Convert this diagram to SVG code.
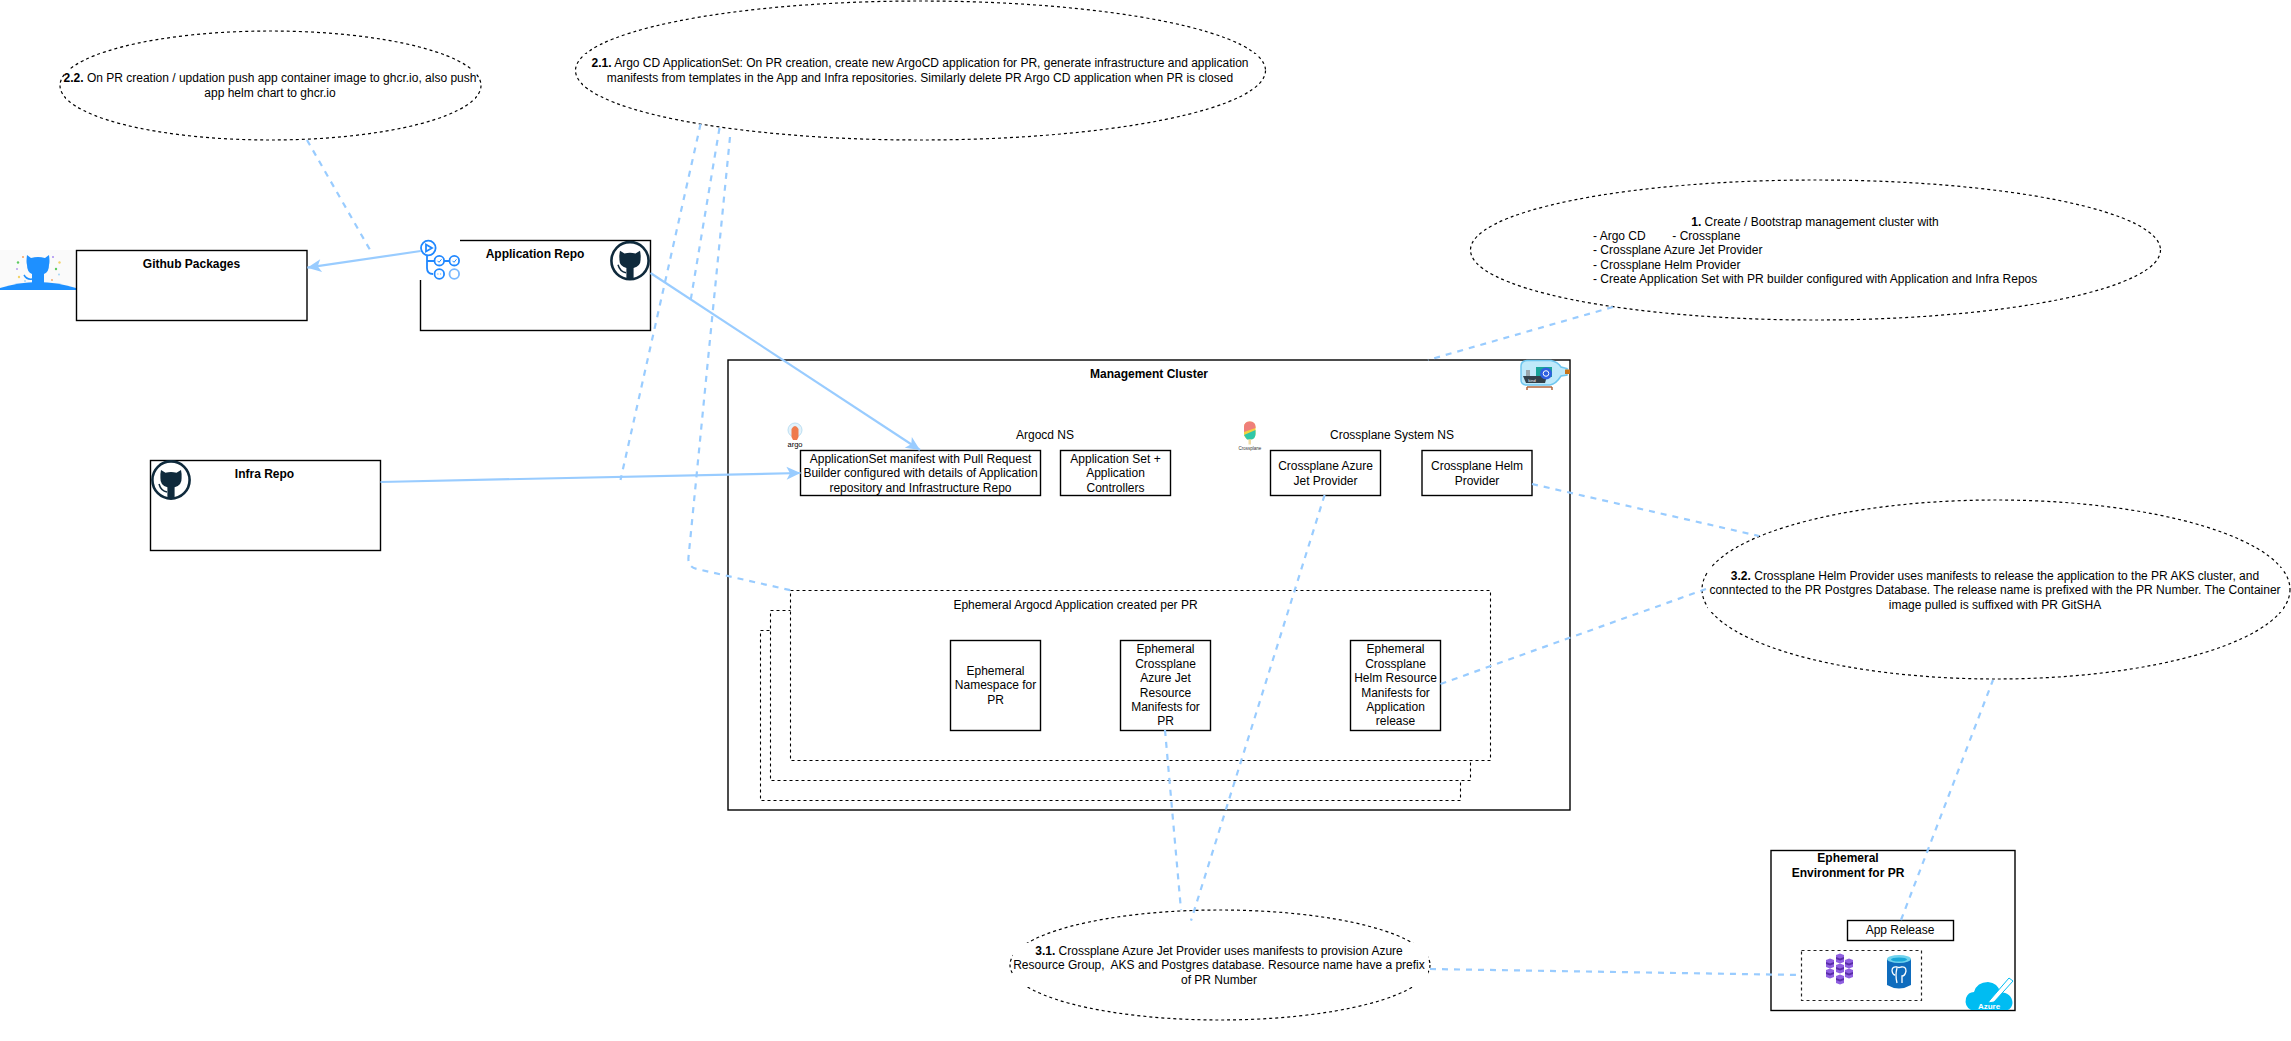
<svg xmlns="http://www.w3.org/2000/svg" xmlns:xlink="http://www.w3.org/1999/xlink" width="2291" height="1041" viewBox="0 0 2291 1041">
<style>
text{font-family:"Liberation Sans",Arial,Helvetica,sans-serif;font-size:12px;fill:#000;text-anchor:middle}
.b{font-weight:bold}
.box{fill:#fff;stroke:#000;stroke-width:1.4}
.dbox{fill:#fff;stroke:#000;stroke-width:1.1;stroke-dasharray:3 3}
.ell{fill:#fff;stroke:#000;stroke-width:1.2;stroke-dasharray:3 3}
.bg{fill:#fff;stroke:none}
.link{fill:none;stroke:#99ccff;stroke-width:2.2}
.dash{fill:none;stroke:#99ccff;stroke-width:2.2;stroke-dasharray:6 6}
.arrow{marker-end:url(#head)}
.l{text-anchor:start}
</style>
<defs>
<marker id="head" markerUnits="userSpaceOnUse" markerWidth="16" markerHeight="16" viewBox="-15 -8 16 16" refX="0" refY="0" orient="auto">
<path d="M0,0 L-14,-6.500 L-10.500,0 L-14,6.500 Z" fill="#99ccff"/>
</marker>
<g id="octo">
<circle r="18.6" fill="#fff" stroke="#0f2a3c" stroke-width="2.6"/>
<path d="M-10,-10 L-5.500,-7.300 Q0,-8.600 5.500,-7.300 L10,-10 Q11,-5.500 10.600,-2 Q11,5.500 3.600,7.200 L3.600,18.300 L-3.600,18.300 L-3.600,7.200 Q-11,5.500 -10.600,-2 Q-11,-5.500 -10,-10 Z" fill="#0f2a3c"/>
<path d="M-12,4 Q-10,11 -4,12" fill="none" stroke="#0f2a3c" stroke-width="1.5"/>
</g>
<g id="cube">
<path d="M-4,-3.500 L0,-5 L4,-3.500 L4,3.500 L0,5 L-4,3.500 Z" fill="#8f5fe0"/>
<path d="M-4,-1.500 L0,0 L4,-1.500 L4,0.500 L0,2 L-4,0.500 Z" fill="#5a2da8"/>
</g>
</defs>

<g id="ellipse-2-2">
<ellipse class="ell" cx="270.500" cy="85.500" rx="210.500" ry="54.500"/>
<rect class="bg" x="66" y="69" width="409" height="31"/>
<text x="270" y="82"><tspan class="b">2.2.</tspan> On PR creation / updation push app container image to ghcr.io, also push</text>
<text x="270" y="97">app helm chart to ghcr.io</text>
</g>

<g id="ellipse-2-1">
<ellipse class="ell" cx="920.500" cy="70.500" rx="345" ry="69.500"/>
<rect class="bg" x="583" y="54" width="675" height="31"/>
<text x="920" y="67"><tspan class="b">2.1.</tspan> Argo CD ApplicationSet: On PR creation, create new ArgoCD application for PR, generate infrastructure and application</text>
<text x="920" y="82">manifests from templates in the App and Infra repositories. Similarly delete PR Argo CD application when PR is closed</text>
</g>

<g id="ellipse-1">
<ellipse class="ell" cx="1815.500" cy="250" rx="345" ry="70"/>
<text x="1815" y="226"><tspan class="b">1.</tspan> Create / Bootstrap management cluster with</text>
<text class="l" x="1593" y="240" xml:space="preserve">- Argo CD        - Crossplane</text>
<text class="l" x="1593" y="254">- Crossplane Azure Jet Provider</text>
<text class="l" x="1593" y="269">- Crossplane Helm Provider</text>
<text class="l" x="1593" y="283">- Create Application Set with PR builder configured with Application and Infra Repos</text>
</g>

<g id="github-packages">
<rect x="0" y="250" width="76" height="40" fill="#fafafa"/>
<path d="M0,288 Q38,276 76,288 L76,290 L0,290 Z" fill="#1e90ff"/>
<path d="M27,255 L31,258 Q38,256 45,258 L49,255 Q50,262 49,265 Q49,272 44,274 L44,283 L32,283 L32,274 Q27,272 27,265 Q26,262 27,255 Z" fill="#1e90ff"/>
<path d="M24,275 Q27,280 32,279" fill="none" stroke="#1e90ff" stroke-width="1.500"/>
<g>
<circle cx="23" cy="257" r="1" fill="#f4a261"/><circle cx="18" cy="262.500" r="1.200" fill="#5ccb5f"/><circle cx="17" cy="269" r="1" fill="#b79cf0"/><circle cx="19" cy="277" r="1.200" fill="#f2d36b"/><circle cx="53" cy="257" r="1" fill="#a98cf0"/><circle cx="59.500" cy="262.500" r="1.200" fill="#f2d36b"/><circle cx="56" cy="269" r="1.200" fill="#5ccb5f"/><circle cx="59" cy="274.500" r="0.900" fill="#9fd3f7"/><circle cx="52" cy="280" r="0.900" fill="#f4a261"/><circle cx="25" cy="281" r="0.900" fill="#9fd3f7"/>
</g>
<rect class="box" x="76.500" y="250.500" width="230.500" height="70"/>
<text class="b" x="191.500" y="268">Github Packages</text>
</g>

<g id="application-repo">
<rect class="box" x="420.500" y="240.500" width="230" height="90"/>
<rect x="419" y="239" width="41" height="41" fill="#fff"/>
<text class="b" x="535" y="258">Application Repo</text>
<use href="#octo" x="630" y="260.700"/>
<g fill="#fff" stroke="#2188ff" stroke-width="1.800">
<path d="M427,256 L427,268 Q427,274 433,274 M427,261 Q428,261 434,261 M444,261 L449,261" fill="none"/>
<circle cx="428.300" cy="248" r="7.300"/>
<path d="M426,244.500 L432,248 L426,251.500 Z" fill="none"/>
<circle cx="439.300" cy="260.700" r="4.800"/><circle cx="454.300" cy="260.700" r="4.800"/>
<circle cx="439.300" cy="274" r="4.800"/>
<circle cx="454.300" cy="274" r="4.800" stroke="#79b8ff"/>
<path d="M437.500,260.800 L439,262.300 L441.500,259.300 M452.500,260.800 L454,262.300 L456.500,259.300" fill="none" stroke-width="1"/>
<path d="M437.500,274 L438.300,274 M440.300,274 L441.100,274" fill="none" stroke-width="1"/>
</g>
</g>

<g id="infra-repo">
<rect class="box" x="150.500" y="460.500" width="230" height="90"/>
<use href="#octo" x="171" y="480"/>
<text class="b" x="264.500" y="478">Infra Repo</text>
</g>

<g id="management-cluster">
<rect class="box" x="728" y="360" width="842" height="450"/>
<text class="b" x="1149" y="378">Management Cluster</text>
<g id="kind-icon">
<path d="M1527,360.500 L1551,360.500 Q1558,362 1561,367 L1567,368.500 L1567,375 L1561,376 Q1556,384 1550,385 L1527,385 Q1521,385 1521,380 L1521,366 Q1521,361 1527,360.500 Z" fill="#bfe9fa" stroke="#6fc6ef" stroke-width="1.500"/>
<rect x="1565" y="369.500" width="5" height="4.500" fill="#c8741a"/>
<rect x="1536" y="367" width="16" height="10" fill="#17a398"/>
<rect x="1526" y="370" width="4" height="6" fill="#9aa7ad"/>
<path d="M1523,376 L1547,376 L1545,383 L1526,383 Z" fill="#33414a"/>
<circle cx="1546" cy="373.500" r="6" fill="#2f5fe0"/>
<circle cx="1546" cy="373.500" r="2.800" fill="none" stroke="#fff" stroke-width="1"/>
<path d="M1527,387 L1552,387 M1527,387 L1527,390 M1552,387 L1552,390" stroke="#b1663e" stroke-width="1.500" fill="none"/>
<text x="1532" y="382" style="font-size:4px;fill:#fff">kind</text>
</g>
<g id="argo-icon">
<circle cx="795" cy="430" r="7" fill="#e3f2fb" stroke="#bcdff2" stroke-width="1"/>
<path d="M791.500,429 Q795,423 798.500,429 L798.500,437 L797,440 L793,440 L791.500,437 Z" fill="#ef7b4d"/>
<text x="795" y="446.500" style="font-size:7.500px">argo</text>
</g>
<g id="crossplane-icon">
<rect x="1244" y="421.500" width="11.500" height="18" rx="5.500" fill="#f4d03f"/>
<path d="M1244,427 Q1244,421.500 1249.800,421.500 Q1255.500,421.500 1255.500,427 L1255.500,428 L1244,432 Z" fill="#ef7f7a"/>
<path d="M1244,435 L1255.500,430 L1255.500,434 Q1255.500,439.500 1250,439.500 L1247,439.500 Z" fill="#2fc7a8"/>
<rect x="1248.500" y="439.500" width="2.500" height="5" fill="#f0d9a0"/>
<text x="1250" y="449.500" style="font-size:4.500px;fill:#333">Crossplane</text>
</g>
<text x="1045" y="439">Argocd NS</text>
<text x="1392" y="439">Crossplane System NS</text>
</g>

<g id="applicationset-manifest">
<rect class="box" x="800.500" y="450.500" width="240" height="45"/>
<text x="920.500" y="463">ApplicationSet manifest with Pull Request</text>
<text x="920.500" y="477">Builder configured with details of Application</text>
<text x="920.500" y="492">repository and Infrastructure Repo</text>
</g>
<g id="appset-controllers">
<rect class="box" x="1060.500" y="450.500" width="110" height="45"/>
<text x="1115.500" y="463">Application Set +</text>
<text x="1115.500" y="477">Application</text>
<text x="1115.500" y="492">Controllers</text>
</g>
<g id="crossplane-azure">
<rect class="box" x="1270.500" y="450.500" width="110" height="45"/>
<text x="1325.500" y="470">Crossplane Azure</text>
<text x="1325.500" y="485">Jet Provider</text>
</g>
<g id="crossplane-helm">
<rect class="box" x="1422" y="450.500" width="110" height="45"/>
<text x="1477" y="470">Crossplane Helm</text>
<text x="1477" y="485">Provider</text>
</g>

<g id="ephemeral-app">
<rect class="dbox" x="760.500" y="630.500" width="700" height="170"/>
<rect class="dbox" x="770.500" y="610.500" width="700" height="170"/>
<rect class="dbox" x="790.500" y="590.500" width="700" height="170"/>
<text x="1075.500" y="609">Ephemeral Argocd Application created per PR</text>
</g>
<g id="ephemeral-namespace">
<rect class="box" x="950.500" y="640.500" width="90" height="90"/>
<text x="995.500" y="675">Ephemeral</text>
<text x="995.500" y="689">Namespace for</text>
<text x="995.500" y="704">PR</text>
</g>
<g id="ephemeral-jet">
<rect class="box" x="1120.500" y="640.500" width="90" height="90"/>
<text x="1165.500" y="653">Ephemeral</text>
<text x="1165.500" y="668">Crossplane</text>
<text x="1165.500" y="682">Azure Jet</text>
<text x="1165.500" y="697">Resource</text>
<text x="1165.500" y="711">Manifests for</text>
<text x="1165.500" y="725">PR</text>
</g>
<g id="ephemeral-helm">
<rect class="box" x="1350.500" y="640.500" width="90" height="90"/>
<text x="1395.500" y="653">Ephemeral</text>
<text x="1395.500" y="668">Crossplane</text>
<text x="1395.500" y="682">Helm Resource</text>
<text x="1395.500" y="697">Manifests for</text>
<text x="1395.500" y="711">Application</text>
<text x="1395.500" y="725">release</text>
</g>

<g id="ellipse-3-2">
<ellipse class="ell" cx="1996" cy="589.500" rx="294" ry="89.500"/>
<rect class="bg" x="1708" y="568" width="575" height="44"/>
<text x="1995" y="580"><tspan class="b">3.2.</tspan> Crossplane Helm Provider uses manifests to release the application to the PR AKS cluster, and</text>
<text x="1995" y="594">conntected to the PR Postgres Database. The release name is prefixed with the PR Number. The Container</text>
<text x="1995" y="609">image pulled is suffixed with PR GitSHA</text>
</g>

<g id="ellipse-3-1">
<ellipse class="ell" cx="1220" cy="965" rx="210" ry="55"/>
<rect class="bg" x="1013" y="943" width="415" height="44"/>
<text x="1219" y="955"><tspan class="b">3.1.</tspan> Crossplane Azure Jet Provider uses manifests to provision Azure</text>
<text x="1219" y="969" xml:space="preserve">Resource Group,  AKS and Postgres database. Resource name have a prefix</text>
<text x="1219" y="984">of PR Number</text>
</g>

<g id="ephemeral-environment">
<rect class="box" x="1771" y="850.500" width="244" height="160"/>
<text class="b" x="1848" y="862">Ephemeral</text>
<text class="b" x="1848" y="877">Environment for PR</text>
</g>
<g id="app-release">
<rect class="box" x="1847.500" y="920.500" width="106" height="20"/>
<text x="1900" y="934">App Release</text>
</g>
<g id="ephemeral-resources">
<rect x="1801.500" y="950.500" width="120" height="50" fill="#fff" stroke="#222" stroke-width="1.200" stroke-dasharray="3 3"/>
<g id="aks-icon">
<use href="#cube" x="1830" y="963.500"/>
<use href="#cube" x="1840" y="958.500"/>
<use href="#cube" x="1849" y="963.500"/>
<use href="#cube" x="1840" y="968.500"/>
<use href="#cube" x="1830" y="973.500"/>
<use href="#cube" x="1849" y="973.500"/>
<use href="#cube" x="1840" y="979.500"/>
</g>
<g id="postgres-icon">
<path d="M1887,959 L1887,985 Q1899,992 1911,985 L1911,959 Z" fill="#0f6cbd"/>
<ellipse cx="1899" cy="959" rx="12" ry="4" fill="#6fd3ee"/>
<ellipse cx="1899" cy="959.500" rx="8" ry="2" fill="#1aa7d8"/>
<path d="M1892,971 Q1892,966 1897,967 Q1899,968 1901,967 Q1906,966 1906,971 Q1905,976 1902,976 L1902,983 M1897,968 Q1895,975 1897,983 M1892,971 Q1893,975 1895,975" fill="none" stroke="#fff" stroke-width="1.300"/>
</g>
</g>
<g id="azure-icon">
<path d="M1971,1010 Q1964,1006 1966,998 Q1968,992 1974,992 Q1977,982 1988,982 Q1998,983 2000,992 Q2012,993 2012.500,1003 Q2012,1008 2008,1010 Z" fill="#00bcf2"/>
<path d="M1990,1000 L2009,978 L2013,981 L1994,1002 L1988,1003 Z" fill="#fff" stroke="#00bcf2" stroke-width="1"/>
<text class="b" x="1989" y="1009" style="font-size:8px;fill:#fff">Azure</text>
</g>

<g id="connectors">
<path class="link arrow" d="M420.700,251 L307.300,267.700"/>
<path class="link arrow" d="M650.500,273 L920,450"/>
<path class="link arrow" d="M380.500,482 L800.500,473"/>
<path class="dash" d="M307,140 L370.500,250.700"/>
<path class="dash" d="M700.600,124 L620.500,480"/>
<path class="dash" d="M719.500,128 L690.700,300"/>
<path class="dash" d="M730,137 L688.500,557 Q687.500,567 697,569 L790.700,590.300"/>
<path class="dash" d="M1613,307 L1428,360"/>
<path class="dash" d="M1532,484 L1759,536"/>
<path class="dash" d="M1440.500,684 L1706,589"/>
<path class="dash" d="M1165,730 L1181,910"/>
<path class="dash" d="M1324.600,495 L1191,920.700"/>
<path class="dash" d="M1430,969 L1801,975"/>
<path class="dash" d="M1901,920 L1993,680"/>
</g>
</svg>
